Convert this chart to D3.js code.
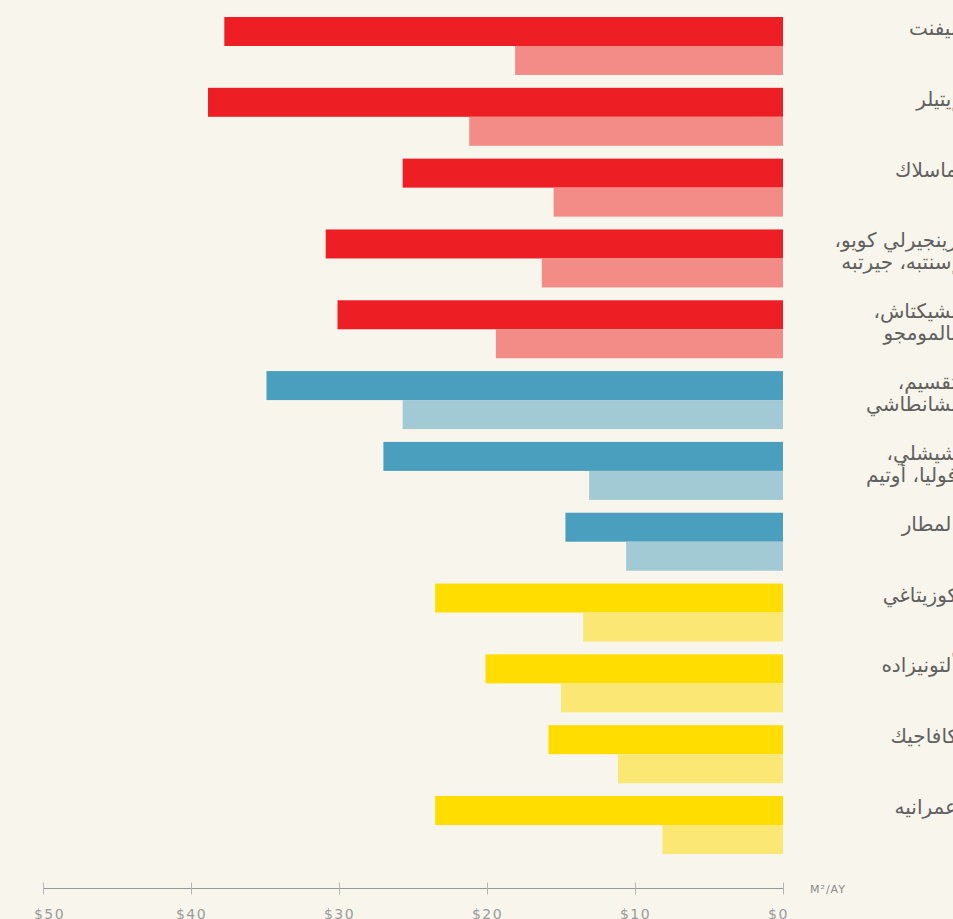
<!DOCTYPE html>
<html>
<head>
<meta charset="utf-8">
<script src="https://cdn.jsdelivr.net/npm/d3@7"></script>
<style>
  html, body { margin: 0; padding: 0; background: #F8F6EC; overflow: hidden; }
  svg { display: block; }
</style>
</head>
<body>
<main></main>
<script>
/* office rents, $ per m2 per month (Arabic labels) */

const WIDTH = 953;
const HEIGHT = 919;

const districts = [
  ['ليفنت'],
  ['إيتيلر'],
  ['ماسلاك'],
  ['زينجيرلي كويو،', 'إسنتبه، جيرتبه'],
  ['بشيكتاش،', 'بالمومجو'],
  ['تقسيم،', 'نشانطاشي'],
  ['شيشلي،', 'فوليا، أوتيم'],
  ['المطار'],
  ['كوزيتاغي'],
  ['ألتونيزاده'],
  ['كافاجيك'],
  ['عمرانيه']
];

// which colour family each district belongs to
const zones = ['red', 'red', 'red', 'red', 'red', 'blue', 'blue', 'blue',
  'yellow', 'yellow', 'yellow', 'yellow'];

const rentHigh = [37.75, 38.85, 25.7, 30.9, 30.1, 34.9, 27.0, 14.7, 23.5, 20.1, 15.85, 23.5];
const rentLow = [18.1, 21.2, 15.5, 16.3, 19.4, 25.7, 13.1, 10.6, 13.5, 15.0, 11.15, 8.15];

const tickValues = [50, 40, 30, 20, 10, 0];
const unitLabel = 'M²/AY';

const colors = {
  red: { high: '#EE1E25', low: '#F38C86' },
  blue: { high: '#4A9FBE', low: '#A2CAD5' },
  yellow: { high: '#FFDD00', low: '#FBE874' }
};

const rows = districts.map((d, i) => ({
  id: i, label: d, zone: zones[i], high: rentHigh[i], low: rentLow[i]
}));

const svg = d3.select('main')
  .append('svg')
  .attr('width', WIDTH)
  .attr('height', HEIGHT);

svg.append('rect')
  .attr('width', WIDTH)
  .attr('height', HEIGHT)
  .attr('fill', '#F8F6EC');

// values grow to the left, $0 sits at the right end
const x = d3.scaleLinear()
  .domain([0, 50])
  .range([783, 43]);

const y = d3.scaleBand()
  .domain(rows.map(d => d.id))
  .range([17, 854])
  .paddingInner(0.181)
  .paddingOuter(0);

const ySub = d3.scaleBand()
  .domain(['high', 'low'])
  .range([0, y.bandwidth()]);

const group = svg.append('g')
  .attr('class', 'bars')
  .selectAll('g')
  .data(rows)
  .enter()
  .append('g')
  .attr('transform', d => `translate(0,${y(d.id)})`);

group.selectAll('rect')
  .data(d => ['high', 'low'].map(k => ({ key: k, value: d[k], zone: d.zone })))
  .enter()
  .append('rect')
  .attr('x', d => x(d.value))
  .attr('y', d => ySub(d.key))
  .attr('width', d => x(0) - x(d.value))
  .attr('height', ySub.bandwidth())
  .attr('fill', d => colors[d.zone][d.key]);

// labels run right-to-left from just past the right edge (cropped like the original)
const labels = group.append('text')
  .attr('direction', 'rtl')
  .attr('text-anchor', 'start')
  .attr('font-family', 'DejaVu Sans, sans-serif')
  .attr('font-size', 20)
  .attr('fill', '#606060');

labels.selectAll('tspan')
  .data(d => d.label)
  .enter()
  .append('tspan')
  .attr('x', 957)
  .attr('y', (d, i) => 18 + i * 22)
  .text(d => d);

// bottom axis
const axis = svg.append('g')
  .attr('class', 'axis')
  .attr('transform', 'translate(0,888.5)');

axis.append('line')
  .attr('x1', x(50))
  .attr('x2', x(0))
  .attr('stroke', '#9a9a9a')
  .attr('stroke-width', 1);

const tick = axis.selectAll('g.tick')
  .data(tickValues)
  .enter()
  .append('g')
  .attr('class', 'tick')
  .attr('transform', d => `translate(${Math.round(x(d)) + 0.5},0)`);

tick.append('line')
  .attr('y1', -6)
  .attr('y2', 6)
  .attr('stroke', '#b5b5b5')
  .attr('stroke-width', 1);

tick.append('text')
  .attr('y', 30)
  .attr('dx', d => d === 50 ? 6 : (d === 0 ? -5 : 0))
  .attr('text-anchor', 'middle')
  .attr('font-family', 'DejaVu Sans, sans-serif')
  .attr('font-size', 14)
  .attr('letter-spacing', 1.5)
  .attr('fill', '#9a9a9a')
  .text(d => `$${d}`);

axis.append('text')
  .attr('x', 810)
  .attr('y', 4.5)
  .attr('font-family', 'DejaVu Sans, sans-serif')
  .attr('font-size', 11)
  .attr('letter-spacing', 1)
  .attr('fill', '#8a8a8a')
  .text(unitLabel);
</script>
</body>
</html>
